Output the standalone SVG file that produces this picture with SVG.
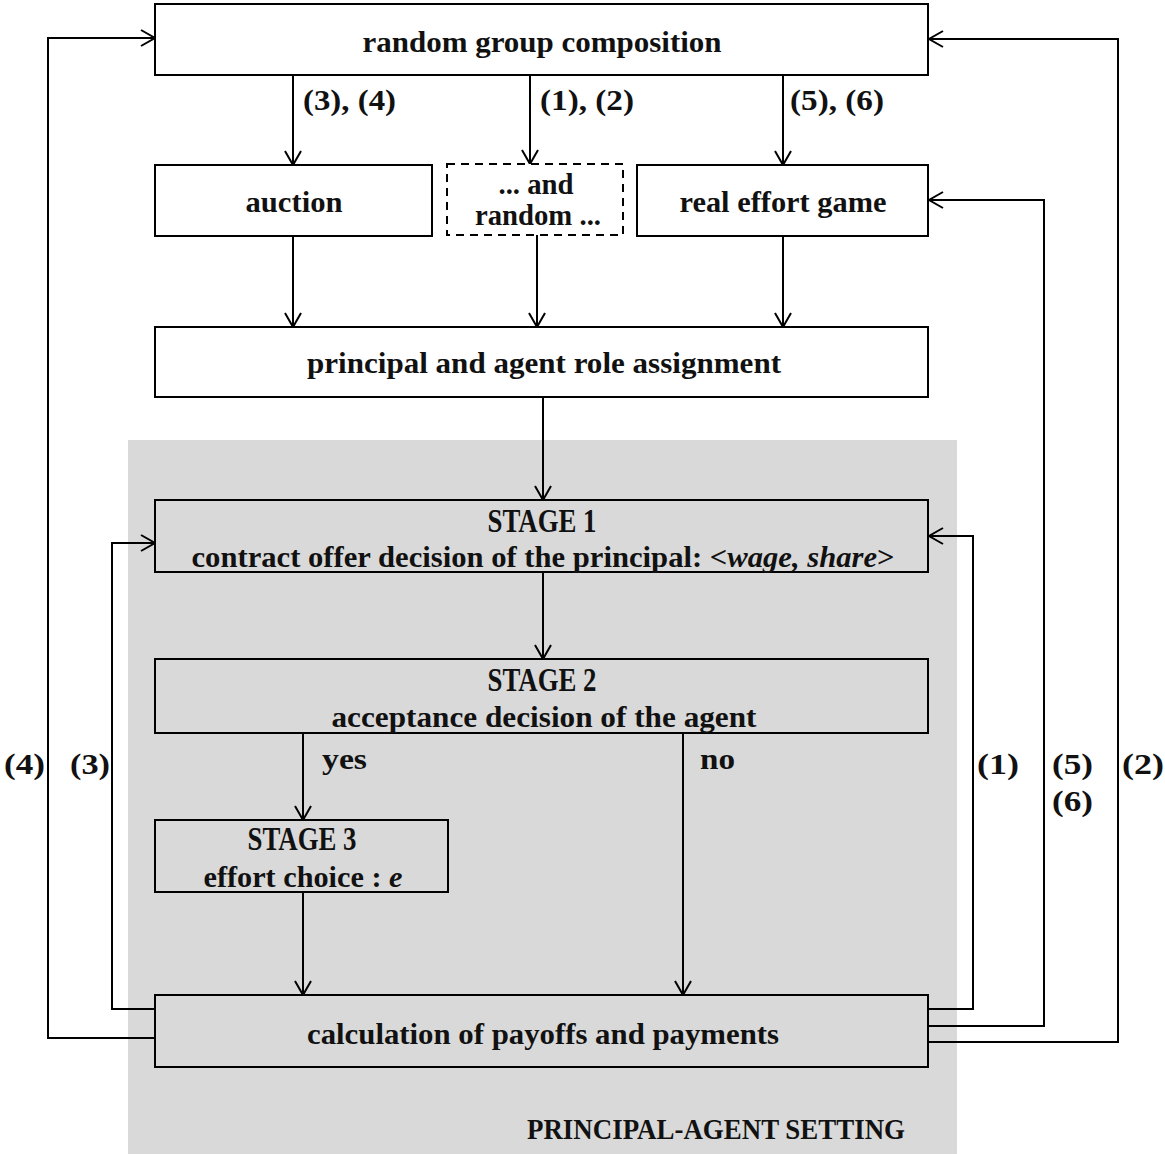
<svg xmlns="http://www.w3.org/2000/svg" width="1165" height="1154" viewBox="0 0 1165 1154">
<defs>
<style>
.box{fill:#fff;stroke:#000;stroke-width:2}
.gbox{fill:#d9d9d9;stroke:#000;stroke-width:2}
.dash{fill:#fff;stroke:#000;stroke-width:2;stroke-dasharray:8 6}
.t{font-family:"Liberation Serif","Times New Roman",serif;font-size:30px;font-weight:bold;fill:#111;text-anchor:middle}
.s{font-size:33px}
.l{font-family:"Liberation Serif","Times New Roman",serif;font-size:30px;font-weight:bold;fill:#111}
.c{fill:none;stroke:#000;stroke-width:2}
</style>
<marker id="ah" viewBox="-16 -10 18 20" markerWidth="18" markerHeight="20" refX="0" refY="0" orient="auto" markerUnits="userSpaceOnUse">
<path d="M-14,-8 L0,0 L-14,8" fill="none" stroke="#000" stroke-width="2"/>
</marker>
</defs>
<rect x="128" y="440" width="829" height="714" fill="#d9d9d9"/>
<g id="connectors">
<path class="c" d="M293,75 V165" marker-end="url(#ah)"/>
<path class="c" d="M530,75 V164" marker-end="url(#ah)"/>
<path class="c" d="M783,75 V165" marker-end="url(#ah)"/>
<path class="c" d="M293,236 V327" marker-end="url(#ah)"/>
<path class="c" d="M537,235 V327" marker-end="url(#ah)"/>
<path class="c" d="M783,236 V327" marker-end="url(#ah)"/>
<path class="c" d="M543,397 V500" marker-end="url(#ah)"/>
<path class="c" d="M543,572 V659" marker-end="url(#ah)"/>
<path class="c" d="M303,733 V820" marker-end="url(#ah)"/>
<path class="c" d="M683,733 V995" marker-end="url(#ah)"/>
<path class="c" d="M303,892 V995" marker-end="url(#ah)"/>
<path class="c" d="M155,1009 H112 V543 H155" marker-end="url(#ah)"/>
<path class="c" d="M155,1038 H48 V38 H155" marker-end="url(#ah)"/>
<path class="c" d="M929,1009 H973 V536 H929" marker-end="url(#ah)"/>
<path class="c" d="M929,1026 H1044 V200 H929" marker-end="url(#ah)"/>
<path class="c" d="M929,1042 H1118 V39 H929" marker-end="url(#ah)"/>
<text class="l" x="303" y="110" textLength="93" lengthAdjust="spacingAndGlyphs">(3), (4)</text>
<text class="l" x="540" y="110" textLength="94" lengthAdjust="spacingAndGlyphs">(1), (2)</text>
<text class="l" x="790" y="110" textLength="94" lengthAdjust="spacingAndGlyphs">(5), (6)</text>
<text class="l" x="322" y="769" textLength="45" lengthAdjust="spacingAndGlyphs">yes</text>
<text class="l" x="700" y="769" textLength="35" lengthAdjust="spacingAndGlyphs">no</text>
<text class="l" x="4" y="774" textLength="41" lengthAdjust="spacingAndGlyphs">(4)</text>
<text class="l" x="70" y="774" textLength="40" lengthAdjust="spacingAndGlyphs">(3)</text>
<text class="l" x="977" y="774" textLength="42" lengthAdjust="spacingAndGlyphs">(1)</text>
<text class="l" x="1052" y="774" textLength="41" lengthAdjust="spacingAndGlyphs">(5)</text>
<text class="l" x="1052" y="811" textLength="41" lengthAdjust="spacingAndGlyphs">(6)</text>
<text class="l" x="1122" y="774" textLength="42" lengthAdjust="spacingAndGlyphs">(2)</text>
</g>
<g id="n-random-group">
<rect class="box" x="155" y="4" width="773" height="71"/>
<text class="t" x="542" y="52" textLength="359" lengthAdjust="spacingAndGlyphs">random group composition</text>
</g>
<g id="n-auction">
<rect class="box" x="155" y="165" width="277" height="71"/>
<text class="t" x="294" y="212" textLength="97" lengthAdjust="spacingAndGlyphs">auction</text>
</g>
<g id="n-random">
<rect class="dash" x="447" y="164" width="176" height="71"/>
<text class="t" x="536" y="194" textLength="75" lengthAdjust="spacingAndGlyphs">... and</text>
<text class="t" x="538" y="225" textLength="126" lengthAdjust="spacingAndGlyphs">random ...</text>
</g>
<g id="n-real-effort">
<rect class="box" x="637" y="165" width="291" height="71"/>
<text class="t" x="783" y="212" textLength="207" lengthAdjust="spacingAndGlyphs">real effort game</text>
</g>
<g id="n-role">
<rect class="box" x="155" y="327" width="773" height="70"/>
<text class="t" x="544" y="373" textLength="474" lengthAdjust="spacingAndGlyphs">principal and agent role assignment</text>
</g>
<g id="n-stage1">
<rect class="gbox" x="155" y="500" width="773" height="72"/>
<text class="t s" x="542" y="532" textLength="109" lengthAdjust="spacingAndGlyphs">STAGE 1</text>
<text class="t" x="543" y="567" textLength="703" lengthAdjust="spacingAndGlyphs">contract offer decision of the principal: &lt;<tspan font-style="italic">wage, share</tspan>&gt;</text>
</g>
<g id="n-stage2">
<rect class="gbox" x="155" y="659" width="773" height="74"/>
<text class="t s" x="542" y="691" textLength="109" lengthAdjust="spacingAndGlyphs">STAGE 2</text>
<text class="t" x="544" y="727" textLength="425" lengthAdjust="spacingAndGlyphs">acceptance decision of the agent</text>
</g>
<g id="n-stage3">
<rect class="gbox" x="155" y="820" width="293" height="72"/>
<text class="t s" x="302" y="850" textLength="109" lengthAdjust="spacingAndGlyphs">STAGE 3</text>
<text class="t" x="303" y="887" textLength="199" lengthAdjust="spacingAndGlyphs">effort choice : <tspan font-style="italic">e</tspan></text>
</g>
<g id="n-calc">
<rect class="gbox" x="155" y="995" width="773" height="72"/>
<text class="t" x="543" y="1044" textLength="472" lengthAdjust="spacingAndGlyphs">calculation of payoffs and payments</text>
</g>
<text class="l s" x="527" y="1139" textLength="378" lengthAdjust="spacingAndGlyphs">PRINCIPAL-AGENT SETTING</text>
</svg>
